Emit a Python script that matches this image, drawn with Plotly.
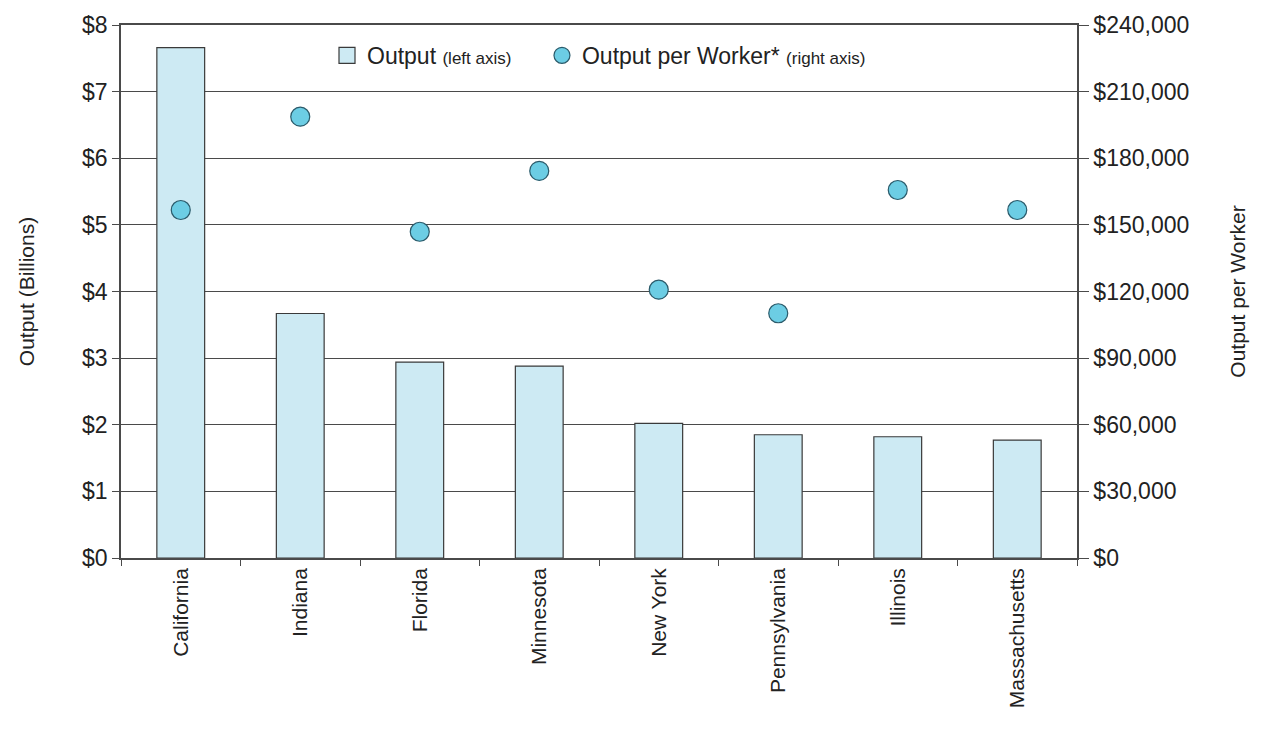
import plotly.graph_objects as go

states = ["California", "Indiana", "Florida", "Minnesota", "New York",
          "Pennsylvania", "Illinois", "Massachusetts"]
output_billions = [7.66, 3.67, 2.94, 2.88, 2.02, 1.85, 1.82, 1.77]
output_per_worker = [156700, 198700, 146900, 174300, 120800, 110200, 165700, 156700]

FONT = "Liberation Sans Narrow, Liberation Sans, Arial, sans-serif"
GRID = "#4a4a4a"
BAR_FILL = "#cdeaf3"
DOT_FILL = "#6ccde4"

fig = go.Figure()
fig.add_trace(go.Bar(
    x=states, y=output_billions, showlegend=False,
    marker=dict(color=BAR_FILL, line=dict(color="#3a3a3a", width=1.2)),
    width=0.4, yaxis="y",
))
fig.add_trace(go.Scatter(
    x=states, y=output_per_worker, mode="markers", showlegend=False,
    marker=dict(color=DOT_FILL, size=19, line=dict(color="#2a5a6a", width=1.2)),
    yaxis="y2",
))
# legend entries
fig.add_trace(go.Scatter(
    x=[None], y=[None], mode="markers",
    name="Output <span style='font-size:17px'>(left axis)</span>&nbsp;&nbsp;&nbsp;&nbsp;",
    marker=dict(color=BAR_FILL, size=22, symbol="square",
                line=dict(color="#3a3a3a", width=1.2)),
))
fig.add_trace(go.Scatter(
    x=[None], y=[None], mode="markers",
    name="Output per Worker* <span style='font-size:17px'>(right axis)</span>",
    marker=dict(color=DOT_FILL, size=19, line=dict(color="#2a5a6a", width=1.2)),
    yaxis="y2",
))

fig.update_layout(
    width=1262, height=734,
    margin=dict(l=121, r=185, t=22, b=176),
    paper_bgcolor="white", plot_bgcolor="white",
    font=dict(family=FONT, size=20, color="#222"),
    showlegend=True,
    legend=dict(orientation="h", x=0.5, xanchor="center", y=0.943, yanchor="middle",
                font=dict(size=23), bgcolor="rgba(0,0,0,0)",
                traceorder="normal", itemsizing="trace"),
    bargap=0.6,
    xaxis=dict(
        tickangle=-90, tickfont=dict(size=21),
        showline=True, linecolor=GRID, linewidth=1.5, mirror=True,
        ticks="outside", tickson="boundaries", ticklen=6, tickcolor=GRID,
        showgrid=False,
    ),
    yaxis=dict(
        range=[0, 8], dtick=1, tickprefix="$", tickfont=dict(size=23),
        showgrid=True, gridcolor=GRID, gridwidth=1.2,
        showline=True, linecolor=GRID, linewidth=1.5,
        ticks="outside", ticklen=7, tickcolor=GRID,
        zeroline=False,
        title=dict(text="Output (Billions)", font=dict(size=21), standoff=42),
    ),
    yaxis2=dict(
        range=[0, 240000], dtick=30000, tickprefix="$", tickformat=",d",
        tickfont=dict(size=23), overlaying="y", side="right",
        showgrid=False, showline=True, linecolor=GRID, linewidth=1.5,
        ticks="outside", ticklen=10, tickcolor=GRID, zeroline=False,
        title=dict(text="Output per Worker", font=dict(size=21), standoff=42),
    ),
)

fig.write_html("out.html")
